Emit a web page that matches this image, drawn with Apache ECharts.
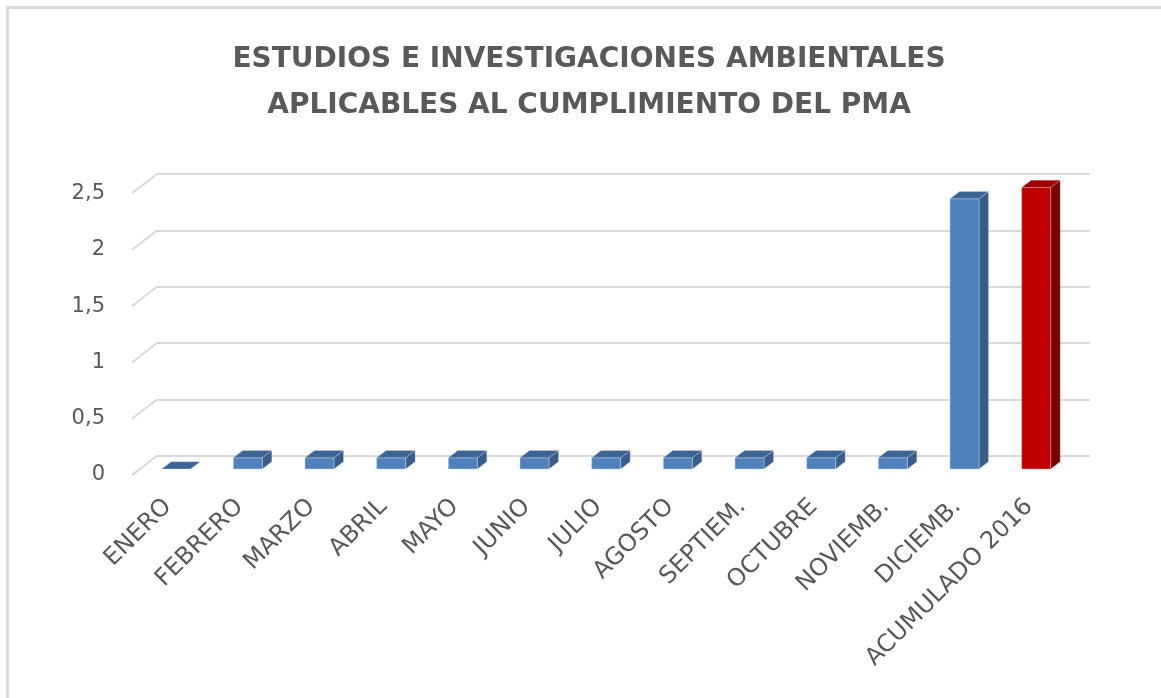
<!DOCTYPE html>
<html><head><meta charset="utf-8">
<script src="https://cdn.jsdelivr.net/npm/echarts@6/dist/echarts.min.js"></script>
<style>html,body{margin:0;padding:0;background:#fff}#c{width:1161px;height:698px}</style>
</head><body><div id="c"></div>
<script>
const titleLines = ['ESTUDIOS E INVESTIGACIONES AMBIENTALES', 'APLICABLES AL CUMPLIMIENTO DEL PMA'];
const categories = ['ENERO','FEBRERO','MARZO','ABRIL','MAYO','JUNIO','JULIO','AGOSTO','SEPTIEM.','OCTUBRE','NOVIEMB.','DICIEMB.','ACUMULADO 2016'];
const values = [0, 0.1, 0.1, 0.1, 0.1, 0.1, 0.1, 0.1, 0.1, 0.1, 0.1, 2.4, 2.5];
const yTicks = [0, 0.5, 1, 1.5, 2, 2.5];
const yTickLabels = ['0', '0,5', '1', '1,5', '2', '2,5'];

const FONT = 'DejaVu Sans';
const TXT = '#595959';
const GRIDC = '#d9d9d9';
const DX = 9.5, DY = -7.3, BW = 29;   // bar depth offset & face width
const FLOOR_DX = -25, FLOOR_DY = 19.4; // back wall -> front floor edge

const chart = echarts.init(document.getElementById('c'), null, {renderer: 'canvas'});

function barItem(params, api) {
  const i = api.value(0), v = api.value(1);
  const top = api.coord([i, v]);
  const base = api.coord([i, 0]);
  const x = top[0] - BW / 2;
  const yt = top[1], yb = base[1];
  const last = params.dataIndex === categories.length - 1;
  const cFront = last ? '#c00000' : '#4f81bd';
  const cSide = last ? '#7a0000' : '#385d8a';
  const cTop = last ? '#9c0000' : '#3d6593';
  const edge = last ? 'rgba(255,180,180,0.5)' : 'rgba(200,215,240,0.6)';
  const children = [];
  if (yb - yt > 0.5) {
    children.push({type: 'polygon', shape: {points: [[x + BW, yt], [x + BW + DX, yt + DY], [x + BW + DX, yb + DY], [x + BW, yb]]}, style: {fill: cSide, stroke: edge, lineWidth: 0.6}});
    children.push({type: 'rect', shape: {x: x, y: yt, width: BW, height: yb - yt}, style: {fill: cFront, stroke: edge, lineWidth: 0.8}});
  }
  children.push({type: 'polygon', shape: {points: [[x, yt], [x + DX, yt + DY], [x + BW + DX, yt + DY], [x + BW, yt]]}, style: {fill: cTop, stroke: edge, lineWidth: 0.6}});
  return {type: 'group', children: children};
}

function diagItem(params, api) {
  const v = api.value(0);
  const p = api.coord([0, v]);
  const bx = params.coordSys.x;
  return {type: 'line', shape: {x1: bx, y1: p[1], x2: bx + FLOOR_DX, y2: p[1] + FLOOR_DY}, style: {stroke: GRIDC, lineWidth: 2}};
}

const option = {
  backgroundColor: '#ffffff',
  animation: false,
  graphic: [
    {type: 'rect', shape: {x: 7.5, y: 7.5, width: 1400, height: 900}, style: {fill: 'none', stroke: '#d9d9d9', lineWidth: 3}, silent: true},
    {type: 'text', x: 589, y: 59.5, style: {text: titleLines[0], font: 'bold 28px "' + FONT + '"', fill: TXT, align: 'center', verticalAlign: 'middle'}},
    {type: 'text', x: 589, y: 105.5, style: {text: titleLines[1], font: 'bold 28px "' + FONT + '"', fill: TXT, align: 'center', verticalAlign: 'middle'}}
  ],
  grid: [
    {left: 157, right: 71, top: 174, bottom: 242.3},     // back wall
    {left: 140.3, right: 89, top: 187.5, bottom: 229},   // bar front plane
    {left: 132, right: 96, top: 193.5, bottom: 223}      // floor front edge (labels)
  ],
  xAxis: [
    {type: 'category', gridIndex: 0, data: categories, show: false},
    {type: 'category', gridIndex: 1, data: categories, show: false},
    {type: 'category', gridIndex: 2, data: categories, axisLine: {show: false}, axisTick: {show: false},
     axisLabel: {interval: 0, rotate: 45, margin: 28, fontFamily: FONT, fontSize: 24, color: TXT}}
  ],
  yAxis: [
    {type: 'value', gridIndex: 0, min: 0, max: 2.5, interval: 0.5, axisLabel: {show: false}, axisLine: {show: false}, axisTick: {show: false},
     splitLine: {show: true, lineStyle: {color: GRIDC, width: 2}}},
    {type: 'value', gridIndex: 1, min: 0, max: 2.5, interval: 0.5, show: false, splitLine: {show: false}},
    {type: 'value', gridIndex: 2, min: 0, max: 2.5, interval: 0.5, axisLine: {show: false}, axisTick: {show: false}, splitLine: {show: false},
     axisLabel: {margin: 27, fontFamily: FONT, fontSize: 21, color: TXT, formatter: function (v) { const k = yTicks.indexOf(v); return k >= 0 ? yTickLabels[k] : ''; }}}
  ],
  series: [
    {type: 'custom', xAxisIndex: 0, yAxisIndex: 0, renderItem: diagItem, data: yTicks.map(v => [v]), encode: {y: 0}, silent: true, z: 1},
    {type: 'custom', xAxisIndex: 1, yAxisIndex: 1, renderItem: barItem, data: values.map((v, i) => [i, v]), encode: {x: 0, y: 1}, z: 5}
  ]
};
chart.setOption(option);
</script>
</body></html>
